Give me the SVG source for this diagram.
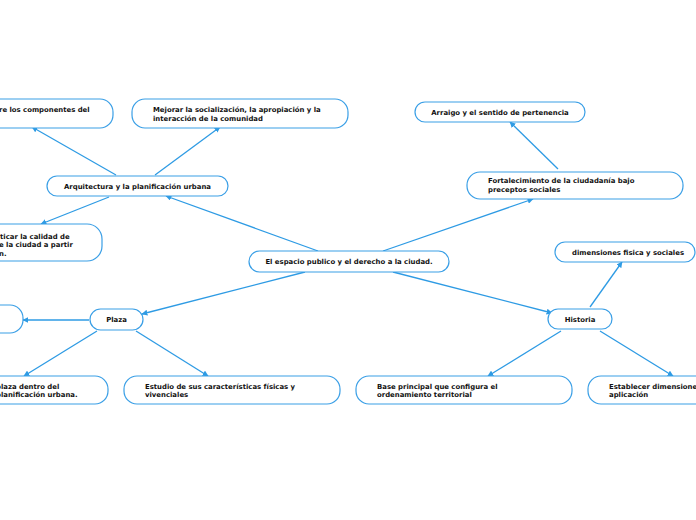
<svg xmlns="http://www.w3.org/2000/svg" width="696" height="520" viewBox="0 0 696 520">
<defs>
<marker id="ah" viewBox="0 0 10 10" refX="9" refY="5" markerWidth="6" markerHeight="6" markerUnits="userSpaceOnUse" orient="auto">
<path d="M0,0 L10,5 L0,10 z" fill="#2e9be4"/>
</marker>
<style>
.n rect{fill:#fff;stroke:#3a9fe6;stroke-width:1.2}
.n text{font-family:"DejaVu Sans",Verdana,sans-serif;font-weight:bold;font-size:6.9px;fill:#111}
.c{text-anchor:middle}
#conn line{stroke:#2e9be4;stroke-width:1.3;marker-end:url(#ah)}
</style>
</defs>
<rect width="696" height="520" fill="#fff"/>
<g id="conn">
<line x1="318" y1="251" x2="166" y2="196"/>
<line x1="383" y1="251" x2="533" y2="199"/>
<line x1="305" y1="272" x2="142" y2="314"/>
<line x1="393" y1="272" x2="552" y2="313"/>
<line x1="116" y1="175" x2="32" y2="127"/>
<line x1="155" y1="175" x2="220" y2="127"/>
<line x1="109" y1="197" x2="41" y2="224"/>
<line x1="558" y1="169" x2="510" y2="122"/>
<line x1="89" y1="320" x2="23" y2="320"/>
<line x1="97" y1="331" x2="24" y2="376"/>
<line x1="136" y1="331" x2="208" y2="376"/>
<line x1="590" y1="307" x2="622" y2="262"/>
<line x1="561" y1="331" x2="488" y2="376"/>
<line x1="600" y1="331" x2="673" y2="376"/>
</g>
<g id="center" class="n"><rect x="249" y="251" width="200" height="21" rx="10.5"/><text class="c" x="349" y="264">El espacio publico y el derecho a la ciudad.</text></g>
<g id="arquitectura" class="n"><rect x="47" y="176" width="181" height="20" rx="10"/><text class="c" x="137.5" y="189">Arquitectura y la planificación urbana</text></g>
<g id="componentes" class="n"><rect x="-120" y="99" width="233" height="29" rx="13"/><text x="-1" y="112">re los componentes del</text></g>
<g id="mejorar" class="n"><rect x="132" y="99" width="216" height="29" rx="13"/><text x="153" y="112">Mejorar la socialización, la apropiación y la</text><text x="153" y="121">interacción de la comunidad</text></g>
<g id="calidad" class="n"><rect x="-120" y="224" width="222" height="37" rx="15"/><text x="0" y="238.5">ticar la calidad de</text><text x="-1" y="247">e la ciudad a partir</text><text x="-1" y="255.5">n.</text></g>
<g id="fortalecimiento" class="n"><rect x="467" y="172" width="216" height="27" rx="13"/><text x="488" y="183">Fortalecimiento de la ciudadanía bajo</text><text x="488" y="192">preceptos sociales</text></g>
<g id="arraigo" class="n"><rect x="415" y="102" width="170" height="20" rx="10"/><text class="c" x="500" y="115">Arraigo y el sentido de pertenencia</text></g>
<g id="plaza" class="n"><rect x="90" y="309" width="53" height="21" rx="10.5"/><text class="c" x="116.5" y="322">Plaza</text></g>
<g id="izquierda" class="n"><rect x="-120" y="305" width="143" height="28" rx="13"/></g>
<g id="planificacion" class="n"><rect x="-120" y="376" width="228" height="28" rx="13"/><text x="-4" y="388.5">plaza dentro del</text><text x="-4" y="397">planificación urbana.</text></g>
<g id="estudio" class="n"><rect x="124" y="376" width="216" height="28" rx="13"/><text x="145" y="388.5">Estudio de sus características físicas y</text><text x="145" y="397">vivenciales</text></g>
<g id="historia" class="n"><rect x="548" y="309" width="64" height="20" rx="10"/><text class="c" x="580" y="322">Historia</text></g>
<g id="dimensiones" class="n"><rect x="555" y="242" width="140" height="20" rx="10"/><text class="c" x="628" y="255">dimensiones fisica y sociales</text></g>
<g id="base" class="n"><rect x="356" y="376" width="216" height="28" rx="13"/><text x="377" y="388.5">Base principal que configura el</text><text x="377" y="397">ordenamiento territorial</text></g>
<g id="establecer" class="n"><rect x="588" y="376" width="216" height="28" rx="13"/><text x="609" y="388.5">Establecer dimensiones</text><text x="609" y="397">aplicación</text></g>
</svg>
